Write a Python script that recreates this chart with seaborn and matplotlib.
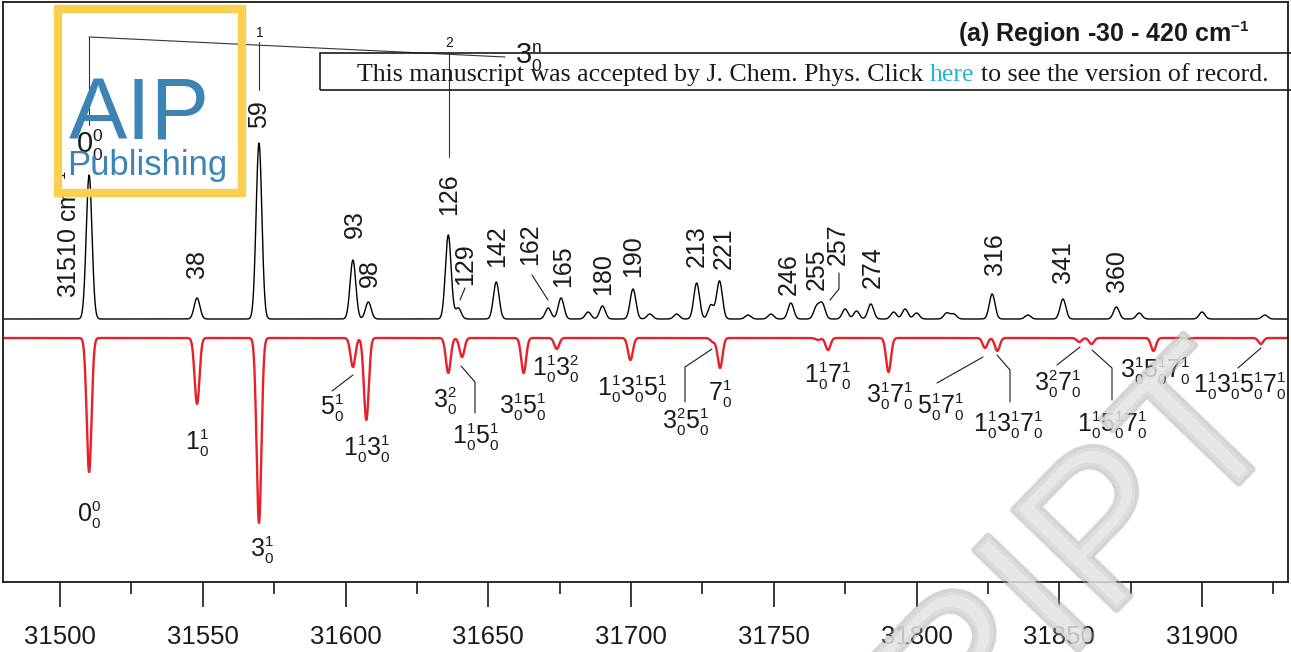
import numpy as np
import pandas as pd
import matplotlib
matplotlib.use("Agg")
import matplotlib.pyplot as plt
import seaborn as sns
from matplotlib import font_manager
from matplotlib.patches import Rectangle
import matplotlib.patheffects as pe
import matplotlib._mathtext as _mt

# ---------------- data ----------------
# experimental spectrum: peak positions (cm-1) and heights (arb.)
exp_peak_pos = [31510.2, 31548.0, 31569.7, 31602.6, 31608.0, 31636.0, 31639.5, 31652.8,
                31671.0, 31675.5, 31685.0, 31690.0, 31700.7, 31706.6, 31716.0, 31723.0,
                31728.0, 31731.0, 31741.0, 31749.0, 31756.0, 31765.0, 31767.0, 31775.0,
                31779.0, 31784.0, 31792.0, 31796.0, 31800.0, 31810.6, 31813.0, 31826.5,
                31839.0, 31851.3, 31870.0, 31878.0, 31900.0, 31922.0]
exp_peak_height = [144, 21, 176, 59, 17, 84, 11, 37,
                   11, 21, 7, 13, 30, 5, 5, 36,
                   14, 38, 4, 5, 16, 12, 15, 10,
                   8, 15, 7, 10, 6, 6, 5, 25,
                   4, 20, 12, 6, 7, 4]

# simulated spectrum (plotted downward): positions and depths
sim_peak_pos = [31510.2, 31548.0, 31569.7, 31602.6, 31607.3, 31636.0, 31640.8, 31662.4,
                31674.0, 31699.8, 31728.7, 31731.2, 31765.5, 31769.0, 31790.2, 31824.0,
                31828.3, 31857.0, 31861.3, 31883.0, 31895.0, 31920.6]
sim_peak_depth = [134, 66, 185, 29, 82, 35, 19, 35,
                  11, 22, 4, 30, 2, 12, 34, 10,
                  13, 4, 6, 13, 1, 6]

exp_labels = ["38", "59", "93", "98", "126", "129", "142", "162", "165", "180", "190",
              "213", "221", "246", "255", "257", "274", "316", "341", "360"]
sim_labels = [r"$0^0_0$", r"$1^1_0$", r"$3^1_0$", r"$5^1_0$", r"$1^1_03^1_0$", r"$3^2_0$",
              r"$1^1_05^1_0$", r"$3^1_05^1_0$", r"$1^1_03^2_0$", r"$1^1_03^1_05^1_0$",
              r"$3^2_05^1_0$", r"$7^1_0$", r"$1^1_07^1_0$", r"$3^1_07^1_0$", r"$5^1_07^1_0$",
              r"$1^1_03^1_07^1_0$", r"$3^2_07^1_0$", r"$1^1_05^1_07^1_0$",
              r"$3^1_05^1_07^1_0$", r"$1^1_03^1_05^1_07^1_0$"]
origin_label = r"31510 cm$^{-1}$"
title_text = r"(a) Region -30 - 420 cm$^{-1}$"
major_ticks = [31500, 31550, 31600, 31650, 31700, 31750, 31800, 31850, 31900]
minor_ticks = [31525, 31575, 31625, 31675, 31725, 31775, 31825, 31875, 31925]

# ---------------- layout helpers ----------------
W, H = 1291, 652
X0PX, XSCALE = 60.0, 2.855          # pixel of 31500 and px per cm-1
YBASE = 338.0                        # pixel row of simulated baseline
EXP_OFFSET = 19.0                    # experimental baseline above simulated


def P(xpx, ypx):
    return 31500 + (xpx - X0PX) / XSCALE, YBASE - ypx


def fx(v):
    return v / W


def fy(v):
    return 1 - v / H


# label positions (pixels) -- layout only
exp_label_px = [(197, 278), (259, 128), (355, 238), (370, 287), (449, 215), (465, 285),
                (497, 267), (530, 265), (563, 287), (603, 295), (633, 277), (697, 267),
                (724, 269), (789, 295), (817, 290), (838, 265), (873, 288), (995, 275),
                (1063, 283), (1117, 292)]
sim_label_px = [(89, 515), (197, 443), (262, 550), (332, 408), (367, 449), (445, 401),
                (476, 437), (523, 407), (556, 369), (632, 389), (686, 422), (720, 394),
                (828, 376), (890, 396), (941, 407), (1008, 425), (1058, 384), (1112, 425),
                (1155, 371), (1240, 386)]
exp_leaders = [[(460, 300), (465, 288)], [(532, 275), (548, 300)],
               [(839, 273), (839, 289), (830, 300)]]
sim_leaders = [[(332, 391), (353, 375)], [(461, 366), (475, 382), (475, 413)],
               [(712, 349), (685, 367), (685, 402)], [(937, 383), (983, 357)],
               [(997, 355), (1010, 370), (1010, 402)], [(1057, 365), (1080, 347)],
               [(1092, 350), (1112, 368), (1112, 400)], [(1238, 368), (1261, 348)]]

# ---------------- style ----------------
sns.set_theme(style="white")
names = {f.name for f in font_manager.fontManager.ttflist}
SANS = "Liberation Sans" if "Liberation Sans" in names else "DejaVu Sans"
SERIF = "Liberation Serif" if "Liberation Serif" in names else "DejaVu Serif"
plt.rcParams["font.family"] = [SANS, "DejaVu Sans"]
plt.rcParams["mathtext.default"] = "regular"
plt.rcParams["mathtext.fontset"] = "custom"
plt.rcParams["mathtext.rm"] = SANS
_mt.SHRINK_FACTOR = 0.6   # smaller sub/superscripts as in the reference

INK = "#1a1a1a"

# ---------------- spectra ----------------
x = np.arange(31480.0, 31930.05, 0.05)
exp_y = np.full_like(x, EXP_OFFSET)
for p, h in zip(exp_peak_pos, exp_peak_height):
    exp_y += h * np.exp(-0.5 * ((x - p) / 1.0) ** 2)
sim_y = np.zeros_like(x)
for p, d in zip(sim_peak_pos, sim_peak_depth):
    sim_y -= d * np.exp(-0.5 * ((x - p) / 0.85) ** 2)
df = pd.DataFrame({"wn": x, "exp": exp_y, "sim": sim_y})

fig = plt.figure(figsize=(W / 100, H / 100), dpi=100)
fig.patch.set_facecolor("white")
ax = fig.add_axes([3 / W, (H - 582) / H, (1288 - 3) / W, (582 - 2) / H])
sns.lineplot(data=df, x="wn", y="exp", color="black", lw=1.0, ax=ax)
sns.lineplot(data=df, x="wn", y="sim", color="#e8202a", lw=1.7, ax=ax)

ax.set_xlim(P(3, 0)[0], P(1288, 0)[0])
ax.set_ylim(YBASE - 582, YBASE - 2)
ax.set_xlabel("")
ax.set_ylabel("")
ax.set_xticks(major_ticks)
ax.set_xticklabels([str(t) for t in major_ticks])
ax.set_xticks(minor_ticks, minor=True)
ax.tick_params(axis="x", which="major", direction="out", length=18, width=1.2,
               pad=13, labelsize=18.5, colors=INK, bottom=True)
ax.tick_params(axis="x", which="minor", direction="out", length=8.5, width=1.2,
               colors=INK, bottom=True)
ax.tick_params(axis="y", left=False, labelleft=False)
for s in ax.spines.values():
    s.set_visible(True)
    s.set_linewidth(1.3)
    s.set_color(INK)

# experimental labels (rotated)
for t, (xp, yp) in zip(exp_labels, exp_label_px):
    ax.text(*P(xp, yp), t, rotation=90, ha="center", va="bottom", fontsize=18, color=INK)
ax.text(*P(70, 298), origin_label, rotation=90, ha="center", va="bottom",
        fontsize=18, color=INK)
for pts in exp_leaders:
    xs, ys = zip(*[P(a, b) for a, b in pts])
    ax.plot(xs, ys, color=INK, lw=0.8)

# simulated labels
for t, (xp, yp) in zip(sim_labels, sim_label_px):
    ax.text(*P(xp, yp), t, ha="center", va="center", fontsize=18, color=INK)
for pts in sim_leaders:
    xs, ys = zip(*[P(a, b) for a, b in pts])
    ax.plot(xs, ys, color=INK, lw=0.8)

# progression bracket 3_0^n
xs, ys = zip(*[P(a, b) for a, b in [(89, 37), (505, 57)]])
ax.plot(xs, ys, color="#333333", lw=0.8, clip_on=False)
for (xa, ya, yb) in [(89, 37, 125), (259, 42, 90), (449, 52, 157)]:
    xs, ys = zip(P(xa, ya), P(xa, yb))
    ax.plot(xs, ys, color="#333333", lw=0.8)
ax.text(*P(260, 33), "1", ha="center", va="center", fontsize=10, color=INK)
ax.text(*P(449, 43), "2", ha="center", va="center", fontsize=10, color=INK)
ax.text(*P(515, 64), r"$3^n_0$", ha="left", va="baseline", fontsize=21, color=INK)
ax.text(*P(90, 145), r"$0^0_0$", ha="center", va="center", fontsize=21, color=INK)

# title
fig.text(fx(1249), fy(42), title_text, ha="right", va="baseline", fontsize=18,
         fontweight="bold", color=INK)

# AIP Publishing logo
fig.add_artist(Rectangle((fx(57.5), fy(193)), (242 - 57.5) / W, (193 - 9) / H,
                         transform=fig.transFigure, fill=False, lw=6, ec="#fcd04f",
                         zorder=20))
fig.text(fx(69), fy(140), "AIP", fontsize=63, color="#3b84b4", ha="left",
         va="baseline", zorder=21)
fig.text(fx(67), fy(175), "Publishing", fontsize=25, color="#3b84b4", ha="left",
         va="baseline", zorder=21)

# acceptance banner
fig.add_artist(Rectangle((fx(320), fy(90)), (1320 - 320) / W, (90 - 53) / H,
                         transform=fig.transFigure, fill=False, lw=1.2, ec=INK,
                         zorder=20))
bsize = 18.6
renderer = fig.canvas.get_renderer()
t1 = fig.text(fx(357), fy(81), "This manuscript was accepted by J. Chem. Phys. Click",
              family=SERIF, fontsize=bsize, ha="left", va="baseline", zorder=21, color=INK)
sp = bsize * 100 / 72 * 0.25
x1 = t1.get_window_extent(renderer).x1 + sp
t2 = fig.text(x1 / W, fy(81), "here", family=SERIF, fontsize=bsize, color="#22b5d6",
              ha="left", va="baseline", zorder=21)
x2 = t2.get_window_extent(renderer).x1 + sp
fig.text(x2 / W, fy(81), "to see the version of record.", family=SERIF, fontsize=bsize,
         ha="left", va="baseline", zorder=21, color=INK)

# watermark
fig.text(fx(1290), fy(430), "MANUSCRIPT", rotation=46, rotation_mode="anchor",
         ha="right", va="baseline", fontsize=150, color="#e4e4e4",
         alpha=0.45, zorder=25,
         path_effects=[pe.withStroke(linewidth=5, foreground="#a0a0a0"), pe.Normal()])

fig.savefig("out.png", dpi=100)
